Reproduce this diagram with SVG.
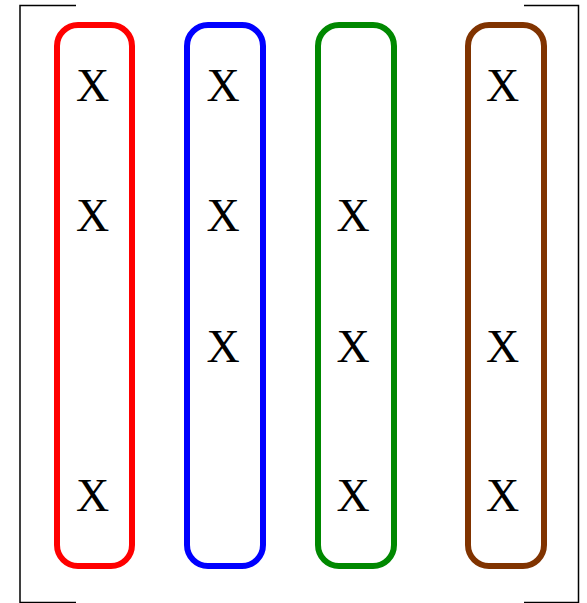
<svg xmlns="http://www.w3.org/2000/svg" width="587" height="603" viewBox="0 0 587 603">
<style>
.b{fill:none;stroke:#000;stroke-width:1.5}
.g{fill:none;stroke-width:6}
.t{font-family:"Liberation Serif","Times New Roman",serif;font-size:46px;fill:#000;text-anchor:middle}
</style>
<rect width="587" height="603" fill="#fff"/>
<g id="brackets">
<polyline class="b" points="76,5.5 20,5.5 20,602.5 76,602.5"/>
<polyline class="b" points="524,5.5 578.5,5.5 578.5,602.5 524,602.5"/>
</g>
<g id="col-red">
<rect class="g" stroke="#ff0000" x="57" y="25" width="75" height="541" rx="21"/>
<text class="t" x="92.5" y="101">X</text>
<text class="t" x="92.5" y="230.5">X</text>
<text class="t" x="92.5" y="510.5">X</text>
</g>
<g id="col-blue">
<rect class="g" stroke="#0000ff" x="187" y="25" width="76" height="541" rx="21"/>
<text class="t" x="223" y="101">X</text>
<text class="t" x="223" y="230.5">X</text>
<text class="t" x="223" y="362">X</text>
</g>
<g id="col-green">
<rect class="g" stroke="#008800" x="318" y="25" width="76" height="541" rx="21"/>
<text class="t" x="353" y="230.5">X</text>
<text class="t" x="353" y="362">X</text>
<text class="t" x="353" y="510.5">X</text>
</g>
<g id="col-brown">
<rect class="g" stroke="#803300" x="468" y="25" width="76" height="541" rx="21"/>
<text class="t" x="502.5" y="101">X</text>
<text class="t" x="502.5" y="362">X</text>
<text class="t" x="502.5" y="510.5">X</text>
</g>
</svg>
